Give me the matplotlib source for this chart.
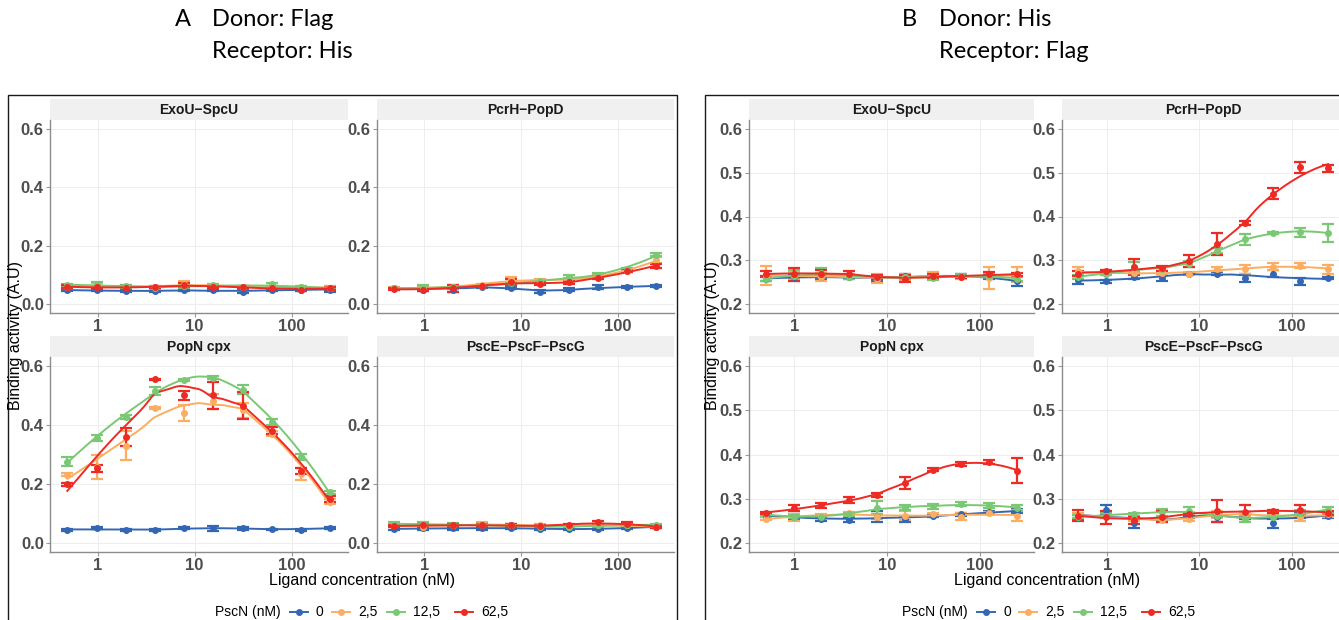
import matplotlib
matplotlib.use("Agg")
import matplotlib.pyplot as plt
import numpy as np
from matplotlib.lines import Line2D
from matplotlib.patches import Rectangle
from matplotlib.ticker import NullLocator

plt.rcParams["font.family"] = ["Liberation Sans", "DejaVu Sans"]

W, H = 1339, 620

# ligand concentrations (nM), 2-fold dilution series
conc = [0.488, 0.977, 1.953, 3.906, 7.813, 15.625, 31.25, 62.5, 125, 250]
pscn_levels = ["0", "2,5", "12,5", "62,5"]
pscn_colors = ["#3467B3", "#FDAD5F", "#7AC874", "#EE2A24"]
complexes = ["ExoU\u2212SpcU", "PcrH\u2212PopD", "PopN cpx", "PscE\u2212PscF\u2212PscG"]

# --- A: donor Flag / receptor His (rows = PscN 0, 2.5, 12.5, 62.5) ---
a_exou_mean = [[0.048, 0.048, 0.045, 0.045, 0.048, 0.047, 0.043, 0.050, 0.050, 0.050],
               [0.060, 0.065, 0.060, 0.058, 0.070, 0.062, 0.060, 0.058, 0.058, 0.057],
               [0.065, 0.068, 0.062, 0.056, 0.062, 0.065, 0.060, 0.068, 0.058, 0.055],
               [0.060, 0.058, 0.055, 0.060, 0.065, 0.060, 0.058, 0.055, 0.050, 0.055]]
a_exou_err = [[0.004, 0.004, 0.004, 0.003, 0.004, 0.003, 0.004, 0.004, 0.004, 0.008],
              [0.004, 0.006, 0.005, 0.004, 0.010, 0.004, 0.004, 0.004, 0.005, 0.005],
              [0.004, 0.007, 0.005, 0.004, 0.005, 0.004, 0.004, 0.006, 0.004, 0.004],
              [0.005, 0.005, 0.006, 0.004, 0.006, 0.004, 0.004, 0.005, 0.005, 0.005]]
a_pcrh_mean = [[0.054, 0.050, 0.050, 0.060, 0.056, 0.043, 0.050, 0.058, 0.060, 0.062],
               [0.055, 0.055, 0.060, 0.065, 0.085, 0.080, 0.085, 0.095, 0.115, 0.150],
               [0.054, 0.058, 0.058, 0.062, 0.072, 0.078, 0.092, 0.100, 0.120, 0.170],
               [0.052, 0.050, 0.055, 0.062, 0.075, 0.070, 0.075, 0.090, 0.115, 0.130]]
a_pcrh_err = [[0.003, 0.005, 0.008, 0.003, 0.003, 0.004, 0.004, 0.007, 0.003, 0.003],
              [0.003, 0.005, 0.006, 0.004, 0.008, 0.006, 0.006, 0.006, 0.006, 0.010],
              [0.003, 0.007, 0.005, 0.004, 0.005, 0.004, 0.007, 0.006, 0.004, 0.006],
              [0.003, 0.006, 0.012, 0.004, 0.010, 0.005, 0.005, 0.005, 0.005, 0.006]]
a_popn_mean = [[0.045, 0.050, 0.045, 0.045, 0.050, 0.050, 0.050, 0.047, 0.045, 0.052],
               [0.232, 0.258, 0.330, 0.458, 0.440, 0.480, 0.450, 0.370, 0.235, 0.140],
               [0.276, 0.355, 0.427, 0.515, 0.552, 0.560, 0.520, 0.410, 0.293, 0.173],
               [0.200, 0.253, 0.360, 0.555, 0.500, 0.500, 0.465, 0.380, 0.245, 0.150]]
a_popn_err = [[0.003, 0.003, 0.003, 0.004, 0.003, 0.008, 0.004, 0.002, 0.004, 0.003],
              [0.005, 0.040, 0.050, 0.003, 0.028, 0.025, 0.025, 0.008, 0.020, 0.008],
              [0.015, 0.010, 0.008, 0.012, 0.003, 0.005, 0.015, 0.010, 0.010, 0.005],
              [0.005, 0.012, 0.030, 0.002, 0.015, 0.045, 0.045, 0.012, 0.010, 0.010]]
a_psce_mean = [[0.048, 0.050, 0.050, 0.050, 0.052, 0.048, 0.048, 0.048, 0.052, 0.055],
               [0.060, 0.055, 0.060, 0.065, 0.060, 0.060, 0.058, 0.062, 0.060, 0.055],
               [0.065, 0.065, 0.062, 0.060, 0.060, 0.055, 0.055, 0.060, 0.062, 0.062],
               [0.058, 0.060, 0.060, 0.060, 0.060, 0.058, 0.062, 0.070, 0.065, 0.055]]
a_psce_err = [[0.005, 0.005, 0.006, 0.005, 0.004, 0.005, 0.004, 0.004, 0.004, 0.004],
              [0.004, 0.005, 0.004, 0.005, 0.004, 0.005, 0.004, 0.004, 0.004, 0.004],
              [0.005, 0.006, 0.005, 0.004, 0.004, 0.004, 0.004, 0.004, 0.004, 0.004],
              [0.004, 0.005, 0.006, 0.004, 0.004, 0.004, 0.004, 0.006, 0.005, 0.004]]

# --- B: donor His / receptor Flag ---
b_exou_mean = [[0.258, 0.262, 0.262, 0.262, 0.258, 0.265, 0.262, 0.265, 0.262, 0.252],
               [0.265, 0.265, 0.262, 0.265, 0.258, 0.262, 0.265, 0.262, 0.260, 0.268],
               [0.258, 0.265, 0.272, 0.262, 0.262, 0.262, 0.260, 0.265, 0.265, 0.258],
               [0.270, 0.268, 0.270, 0.270, 0.262, 0.258, 0.265, 0.262, 0.268, 0.268]]
b_exou_err = [[0.004, 0.004, 0.004, 0.005, 0.006, 0.005, 0.004, 0.004, 0.005, 0.010],
              [0.022, 0.008, 0.010, 0.004, 0.010, 0.006, 0.008, 0.004, 0.025, 0.018],
              [0.006, 0.012, 0.010, 0.004, 0.004, 0.005, 0.005, 0.005, 0.006, 0.004],
              [0.006, 0.015, 0.008, 0.006, 0.005, 0.008, 0.005, 0.003, 0.006, 0.004]]
b_pcrh_mean = [[0.255, 0.252, 0.262, 0.260, 0.270, 0.270, 0.260, 0.270, 0.252, 0.260],
               [0.275, 0.270, 0.272, 0.272, 0.270, 0.280, 0.280, 0.285, 0.288, 0.280],
               [0.262, 0.270, 0.285, 0.280, 0.292, 0.322, 0.348, 0.362, 0.364, 0.363],
               [0.270, 0.275, 0.286, 0.282, 0.298, 0.337, 0.385, 0.452, 0.512, 0.510]]
b_pcrh_err = [[0.010, 0.003, 0.004, 0.008, 0.002, 0.004, 0.010, 0.008, 0.008, 0.003],
              [0.010, 0.003, 0.004, 0.004, 0.003, 0.004, 0.010, 0.008, 0.006, 0.010],
              [0.004, 0.004, 0.012, 0.004, 0.006, 0.006, 0.013, 0.002, 0.010, 0.020],
              [0.006, 0.003, 0.017, 0.006, 0.014, 0.025, 0.005, 0.013, 0.012, 0.008]]
b_popn_mean = [[0.262, 0.260, 0.255, 0.253, 0.260, 0.255, 0.262, 0.265, 0.270, 0.272],
               [0.255, 0.258, 0.262, 0.268, 0.260, 0.262, 0.265, 0.260, 0.268, 0.262],
               [0.265, 0.260, 0.260, 0.265, 0.280, 0.280, 0.283, 0.288, 0.285, 0.280],
               [0.268, 0.279, 0.285, 0.298, 0.309, 0.336, 0.366, 0.379, 0.383, 0.363]]
b_popn_err = [[0.004, 0.005, 0.005, 0.006, 0.012, 0.007, 0.003, 0.004, 0.003, 0.004],
              [0.003, 0.007, 0.004, 0.003, 0.006, 0.010, 0.004, 0.008, 0.003, 0.013],
              [0.003, 0.003, 0.003, 0.003, 0.015, 0.005, 0.005, 0.004, 0.005, 0.007],
              [0.003, 0.007, 0.005, 0.007, 0.005, 0.013, 0.004, 0.005, 0.004, 0.028]]
b_psce_mean = [[0.258, 0.275, 0.245, 0.255, 0.262, 0.258, 0.265, 0.245, 0.262, 0.262],
               [0.262, 0.262, 0.255, 0.252, 0.255, 0.265, 0.265, 0.262, 0.258, 0.265],
               [0.260, 0.262, 0.265, 0.270, 0.272, 0.262, 0.255, 0.260, 0.268, 0.275],
               [0.262, 0.258, 0.252, 0.260, 0.265, 0.272, 0.270, 0.272, 0.275, 0.268]]
b_psce_err = [[0.005, 0.010, 0.010, 0.004, 0.005, 0.010, 0.006, 0.010, 0.005, 0.005],
              [0.005, 0.005, 0.004, 0.004, 0.006, 0.008, 0.006, 0.004, 0.008, 0.006],
              [0.004, 0.005, 0.004, 0.008, 0.010, 0.004, 0.008, 0.004, 0.006, 0.007],
              [0.012, 0.015, 0.008, 0.012, 0.004, 0.025, 0.015, 0.003, 0.012, 0.004]]

panels = [
    {"letter": "A", "donor": "Donor: Flag", "receptor": "Receptor: His",
     "data": [(a_exou_mean, a_exou_err), (a_pcrh_mean, a_pcrh_err),
              (a_popn_mean, a_popn_err), (a_psce_mean, a_psce_err)],
     "yticks": [0.0, 0.2, 0.4, 0.6], "ylim": (-0.03, 0.63),
     "cols": [(50, 348), (377, 674)], "box": (8, 677), "shift": 0},
    {"letter": "B", "donor": "Donor: His", "receptor": "Receptor: Flag",
     "data": [(b_exou_mean, b_exou_err), (b_pcrh_mean, b_pcrh_err),
              (b_popn_mean, b_popn_err), (b_psce_mean, b_psce_err)],
     "yticks": [0.2, 0.3, 0.4, 0.5, 0.6], "ylim": (0.18, 0.62),
     "cols": [(749, 1034), (1062, 1345)], "box": (705, 1420), "shift": 687},
]
rows = [(120, 313), (357, 552)]
STRIP = 21


def loess(x, y, x_new, span=0.75):
    """local quadratic fit with tricube weights (like geom_smooth loess)"""
    x = np.asarray(x, float)
    y = np.asarray(y, float)
    q = int(np.floor(span * len(x)))
    out = []
    for x0 in x_new:
        d = np.abs(x - x0)
        h = np.sort(d)[q - 1] * 1.0001
        w = np.clip(1 - (d / h) ** 3, 0, None) ** 3
        coef = np.polyfit(x - x0, y, 2, w=np.sqrt(w))
        out.append(coef[-1])
    return np.array(out)


def px_axes(fig, left, top, right, bottom):
    return fig.add_axes([left / W, 1 - bottom / H, (right - left) / W, (bottom - top) / H])


fig = plt.figure(figsize=(W / 100, H / 100), dpi=100)

log_conc = np.log10(conc)
log_fine = np.linspace(log_conc[0], log_conc[-1], 200)

for panel in panels:
    for k, (mean_sets, err_sets) in enumerate(panel["data"]):
        left, right = panel["cols"][k % 2]
        top, bottom = rows[k // 2]
        ax = px_axes(fig, left, top, right, bottom)

        for color, means, errs in zip(pscn_colors, mean_sets, err_sets):
            ax.errorbar(conc, means, yerr=errs, fmt="none", ecolor=color,
                        elinewidth=1.6, capsize=4.5, capthick=1.6, zorder=2)
        for color, means in zip(pscn_colors, mean_sets):
            ax.plot(10 ** log_fine, loess(log_conc, means, log_fine),
                    color=color, lw=1.4, zorder=3)
            ax.plot(conc, means, "o", color=color, ms=4, zorder=4)

        ax.set_xscale("log")
        ax.set_xlim(10 ** -0.49, 10 ** 2.58)
        ax.set_ylim(*panel["ylim"])
        ax.set_xticks([1, 10, 100], ["1", "10", "100"], fontweight="bold")
        ax.xaxis.set_minor_locator(NullLocator())
        ax.set_yticks(panel["yticks"], [f"{t:.1f}" for t in panel["yticks"]],
                      fontweight="bold")
        ax.tick_params(length=3, width=0.8, color="#999999", pad=1.5,
                       labelsize=12, labelcolor="#4D4D4D")
        ax.grid(True, color="#EDEDED", lw=0.7)
        ax.set_axisbelow(True)
        for side in ("top", "right"):
            ax.spines[side].set_visible(False)
        for side in ("left", "bottom"):
            ax.spines[side].set_color("#8C8C8C")
            ax.spines[side].set_linewidth(1.0)

        strip_h = STRIP / (bottom - top)
        ax.add_patch(Rectangle((0, 1), 1, strip_h, transform=ax.transAxes,
                               facecolor="#F0F0F0", edgecolor="none", clip_on=False))
        ax.text(0.5, 1 + strip_h / 2, complexes[k], transform=ax.transAxes,
                ha="center", va="center", fontsize=10, fontweight="bold", color="#1A1A1A")

    # panel frame
    bx0, bx1 = panel["box"]
    fig.add_artist(Rectangle((bx0 / W, -0.02), (bx1 - bx0) / W, 1.02 - 95 / H,
                             transform=fig.transFigure, fill=False,
                             edgecolor="#1A1A1A", lw=1.0))

    # axis titles
    (c0, _), (_, c1) = panel["cols"]
    fig.text((c0 + c1) / 2 / W, 1 - 580 / H, "Ligand concentration (nM)",
             ha="center", va="center", fontsize=11.5)
    fig.text((bx0 + 8) / W, 1 - 335 / H, "Binding activity (A.U)", rotation=90,
             ha="center", va="center", fontsize=11.5)

    # heading
    s = panel["shift"] + (40 if panel["letter"] == "B" else 0)
    fig.text((175 + s) / W, 1 - 19 / H, panel["letter"], family="Lato",
             fontsize=17, va="center")
    fig.text((212 + s) / W, 1 - 19 / H, panel["donor"], family="Lato",
             fontsize=17, va="center")
    fig.text((212 + s) / W, 1 - 51 / H, panel["receptor"], family="Lato",
             fontsize=17, va="center")

    # legend
    sh = panel["shift"]
    ly = 1 - 612 / H
    fig.text((281 + sh) / W, ly, "PscN (nM)", ha="right", va="center", fontsize=10)
    key_x = [290, 332, 387, 455]
    for kx, color, lab in zip(key_x, pscn_colors, pscn_levels):
        x0 = (kx + sh) / W
        x1 = (kx + 18 + sh) / W
        fig.add_artist(Line2D([x0, x1], [ly, ly], color=color, lw=1.4,
                              transform=fig.transFigure))
        fig.add_artist(Line2D([(x0 + x1) / 2], [ly], marker="o", ms=4, color=color,
                              transform=fig.transFigure))
        fig.text((kx + 26 + sh) / W, ly, lab, ha="left", va="center", fontsize=10)

fig.savefig("out.png", dpi=100)
